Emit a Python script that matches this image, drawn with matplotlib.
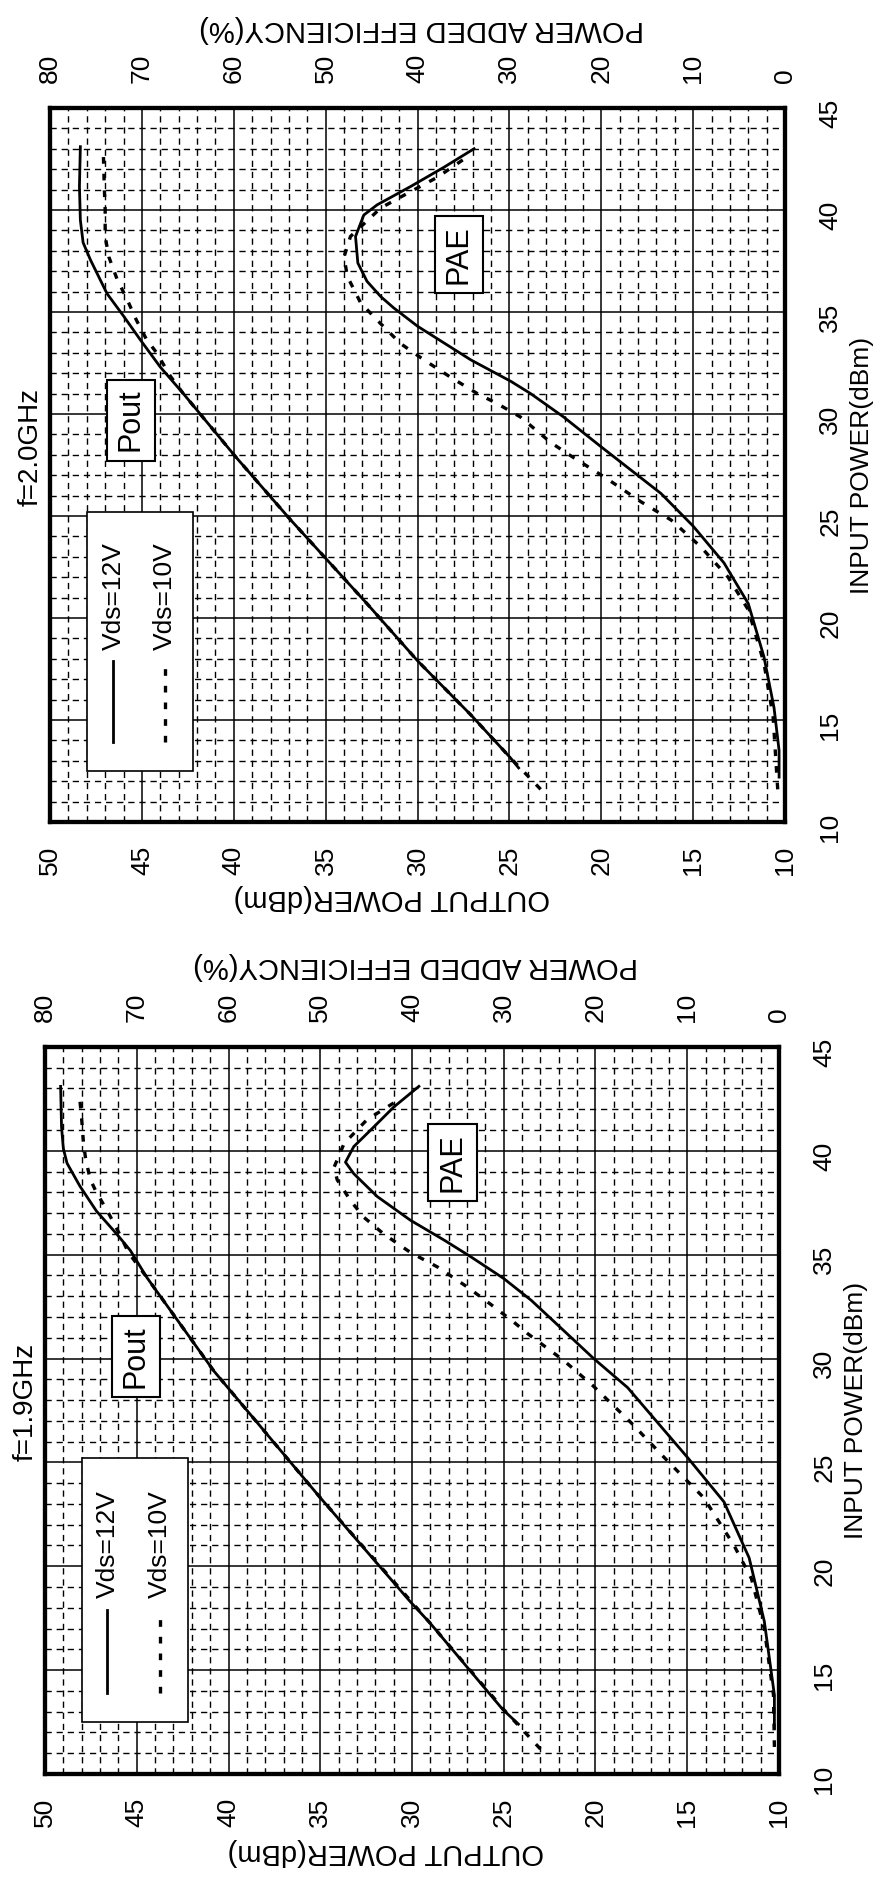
import matplotlib
matplotlib.use('Agg')
import matplotlib.pyplot as plt
from matplotlib.patches import Rectangle

plt.rcParams['font.family'] = ['Liberation Sans', 'DejaVu Sans']

# ---- f=1.9GHz ----
# output power (dBm) vs input power (dBm)
pin_19_pout12 = [12.4, 13.1, 17.25, 18.3, 23.3, 29.4, 33.9, 35.2, 36.0, 37.1, 38.3, 39.4, 40.1, 41.15, 43.1]
pout_19_12 = [24.2, 25.05, 29.0, 30.1, 35.0, 40.8, 44.45, 45.35, 46.1, 47.2, 48.1, 48.8, 49.0, 49.1, 49.15]
pin_19_pout10 = [11.2, 13.1, 17.25, 23.3, 29.4, 33.9, 35.1, 36.1, 37.1, 38.0, 38.65, 39.7, 40.35, 41.5, 42.45]
pout_19_10 = [23.0, 25.0, 29.0, 35.0, 40.8, 44.45, 45.45, 46.0, 46.6, 47.2, 47.55, 47.8, 47.9, 48.0, 48.1]
# power added efficiency (%) vs input power (dBm)
pin_19_pae12 = [12.2, 13.8, 17.35, 20.4, 23.1, 25.2, 28.6, 30.0, 32.8, 33.85, 34.9, 35.7, 36.65, 37.8,
                38.9, 39.45, 40.2, 41.0, 42.1, 43.1]
pae_19_12 = [0.5, 0.5, 1.6, 3.25, 6.0, 9.9, 16.5, 20.2, 27.0, 30.0, 33.6, 36.5, 40.15, 43.8,
             46.35, 47.25, 46.35, 44.5, 42.0, 39.25]
pin_19_pae10 = [11.3, 13.8, 17.0, 19.4, 21.0, 23.3, 25.0, 26.9, 28.7, 29.9, 31.2, 31.75, 32.6, 33.45,
                34.4, 35.1, 36.0, 36.8, 37.6, 38.6, 39.2, 40.35, 41.5, 42.3]
pae_19_10 = [0.5, 0.6, 1.6, 3.0, 4.9, 8.2, 12.0, 16.1, 20.3, 23.45, 27.4, 28.9, 31.4, 34.0,
             37.2, 40.15, 43.1, 45.25, 46.7, 48.15, 48.5, 47.4, 44.9, 42.0]

# ---- f=2.0GHz ----
pin_20_pout12 = [12.65, 13.15, 15.25, 17.9, 20.7, 24.8, 27.9, 31.0, 32.3, 33.65, 34.8, 35.9, 37.55,
                 38.4, 39.5, 41.15, 43.1]
pout_20_12 = [24.5, 24.95, 27.1, 30.0, 32.75, 36.9, 39.9, 42.75, 44.0, 45.1, 46.0, 46.9, 47.8,
              48.2, 48.35, 48.4, 48.35]
pin_20_pout10 = [11.6, 13.15, 15.25, 17.9, 20.7, 24.8, 27.9, 31.0, 31.85, 33.0, 33.65, 34.6, 35.6,
                 36.6, 37.7, 38.7, 40.0, 41.15, 42.8]
pout_20_10 = [23.3, 24.95, 27.1, 30.0, 32.75, 36.9, 39.9, 42.75, 43.45, 44.2, 44.75, 45.3, 45.8,
              46.35, 46.8, 47.0, 47.0, 47.05, 47.1]
pin_20_pae12 = [12.2, 13.5, 15.6, 18.1, 20.7, 22.7, 24.5, 26.1, 28.4, 29.85, 31.0, 31.6, 32.65, 34.3,
                35.2, 35.75, 36.5, 37.4, 38.7, 39.75, 40.25, 41.15, 42.1, 43.0]
pae_20_12 = [0.65, 0.65, 1.2, 2.3, 4.0, 6.65, 10.0, 13.5, 20.05, 24.1, 27.7, 29.85, 34.2, 40.0,
             42.6, 44.0, 45.5, 46.5, 46.75, 45.85, 44.4, 40.75, 37.1, 33.85]
pin_20_pae10 = [11.6, 15.15, 17.8, 20.4, 22.0, 23.5, 24.8, 25.7, 26.8, 28.0, 28.6, 29.85, 30.5, 31.0,
                31.8, 32.65, 33.45, 34.6, 35.45, 36.75, 37.7, 38.7, 40.1, 40.9, 41.6, 42.6]
pae_20_10 = [0.8, 1.3, 2.3, 4.0, 6.2, 9.2, 12.4, 15.7, 19.3, 23.5, 25.5, 28.8, 31.3, 33.5,
             36.4, 39.3, 41.85, 44.4, 46.2, 47.65, 48.0, 47.3, 44.0, 40.75, 37.85, 34.6]

out_ticks = list(range(10, 51, 5))
pae_ticks = list(range(0, 81, 10))
in_ticks = list(range(10, 46, 5))

DOT = (0, (2, 3))
fig = plt.figure(figsize=(8.81, 18.87), dpi=100)


def panel(rect, title, title_y, series, pout_pos, pae_pos):
    p12, o12, p10, o10, e12_in, e12, e10_in, e10 = series
    ax = fig.add_axes(rect)
    ax.set_xlim(50, 10)
    ax.set_ylim(10, 45)
    ax.set_xticks(out_ticks)
    ax.set_xticks(range(10, 51), minor=True)
    ax.set_yticks(in_ticks)
    ax.set_yticks(range(10, 46), minor=True)
    ax.grid(which='major', color='black', lw=1.1)
    ax.grid(which='minor', color='black', lw=1.0, ls=(0, (4.5, 3.5)))
    ax.yaxis.tick_right()
    ax.tick_params(which='both', length=0)
    ax.tick_params(axis='x', labelrotation=90, pad=17, labelsize=19)
    ax.tick_params(axis='y', labelrotation=90, pad=24, labelsize=19)
    for s in ax.spines.values():
        s.set_linewidth(3)

    ax.plot(o12, p12, color='black', lw=2.0, zorder=5)
    ax.plot(o10, p10, color='black', lw=2.4, ls=DOT, zorder=5)

    ax2 = ax.twiny()
    ax2.set_xlim(80, 0)
    ax2.set_xticks(pae_ticks)
    ax2.tick_params(length=0, labelrotation=90, pad=18, labelsize=19)
    for s in ax2.spines.values():
        s.set_linewidth(3)
    ax2.plot(e12, e12_in, color='black', lw=2.0)
    ax2.plot(e10, e10_in, color='black', lw=2.4, ls=DOT)

    # axis titles (rotated as in the scanned sheet)
    ax.text(0.465, -0.107, 'OUTPUT POWER(dBm)', transform=ax.transAxes, rotation=180,
            ha='center', va='center', fontsize=21)
    ax.text(0.505, 1.111, 'POWER ADDED EFFICIENCY(%)', transform=ax.transAxes, rotation=180,
            ha='center', va='center', fontsize=21)
    ax.text(1.105, 0.5, 'INPUT POWER(dBm)', transform=ax.transAxes, rotation=90,
            ha='center', va='center', fontsize=19)
    ax.text(-0.026, title_y, title, transform=ax.transAxes, rotation=90, rotation_mode='anchor',
            ha='left', va='center', fontsize=20)

    # labels in boxes
    box = dict(boxstyle='square,pad=0.3', fc='white', ec='black', lw=1.5)
    ax.text(pout_pos[0], pout_pos[1], 'Pout', rotation=90, ha='center', va='center',
            fontsize=22, bbox=box, zorder=6)
    ax.text(pae_pos[0], pae_pos[1], 'PAE', rotation=90, ha='center', va='center',
            fontsize=22, bbox=box, zorder=6)

    # legend
    ax.add_patch(Rectangle((42.2, 12.5), 5.8, 12.7, fc='white', ec='black', lw=1.2, zorder=4))
    ax.plot([46.6, 46.6], [13.9, 17.9], color='black', lw=2.0, zorder=5)
    ax.plot([43.75, 43.75], [13.9, 17.9], color='black', lw=2.4, ls=DOT, zorder=5)
    ax.text(46.55, 18.45, 'Vds=12V', rotation=90, rotation_mode='anchor', ha='left',
            va='center', fontsize=19, zorder=6)
    ax.text(43.75, 18.45, 'Vds=10V', rotation=90, rotation_mode='anchor', ha='left',
            va='center', fontsize=19, zorder=6)


panel([0.0568, 0.5644, 0.8343, 0.3784], 'f=2.0GHz', 0.443,
      (pin_20_pout12, pout_20_12, pin_20_pout10, pout_20_10,
       pin_20_pae12, pae_20_12, pin_20_pae10, pae_20_10),
      (45.6, 29.7), (27.75, 37.8))
panel([0.0511, 0.0599, 0.8331, 0.3853], 'f=1.9GHz', 0.43,
      (pin_19_pout12, pout_19_12, pin_19_pout10, pout_19_10,
       pin_19_pae12, pae_19_12, pin_19_pae10, pae_19_10),
      (45.05, 30.1), (27.8, 39.45))

fig.savefig('out.png', dpi=100)
